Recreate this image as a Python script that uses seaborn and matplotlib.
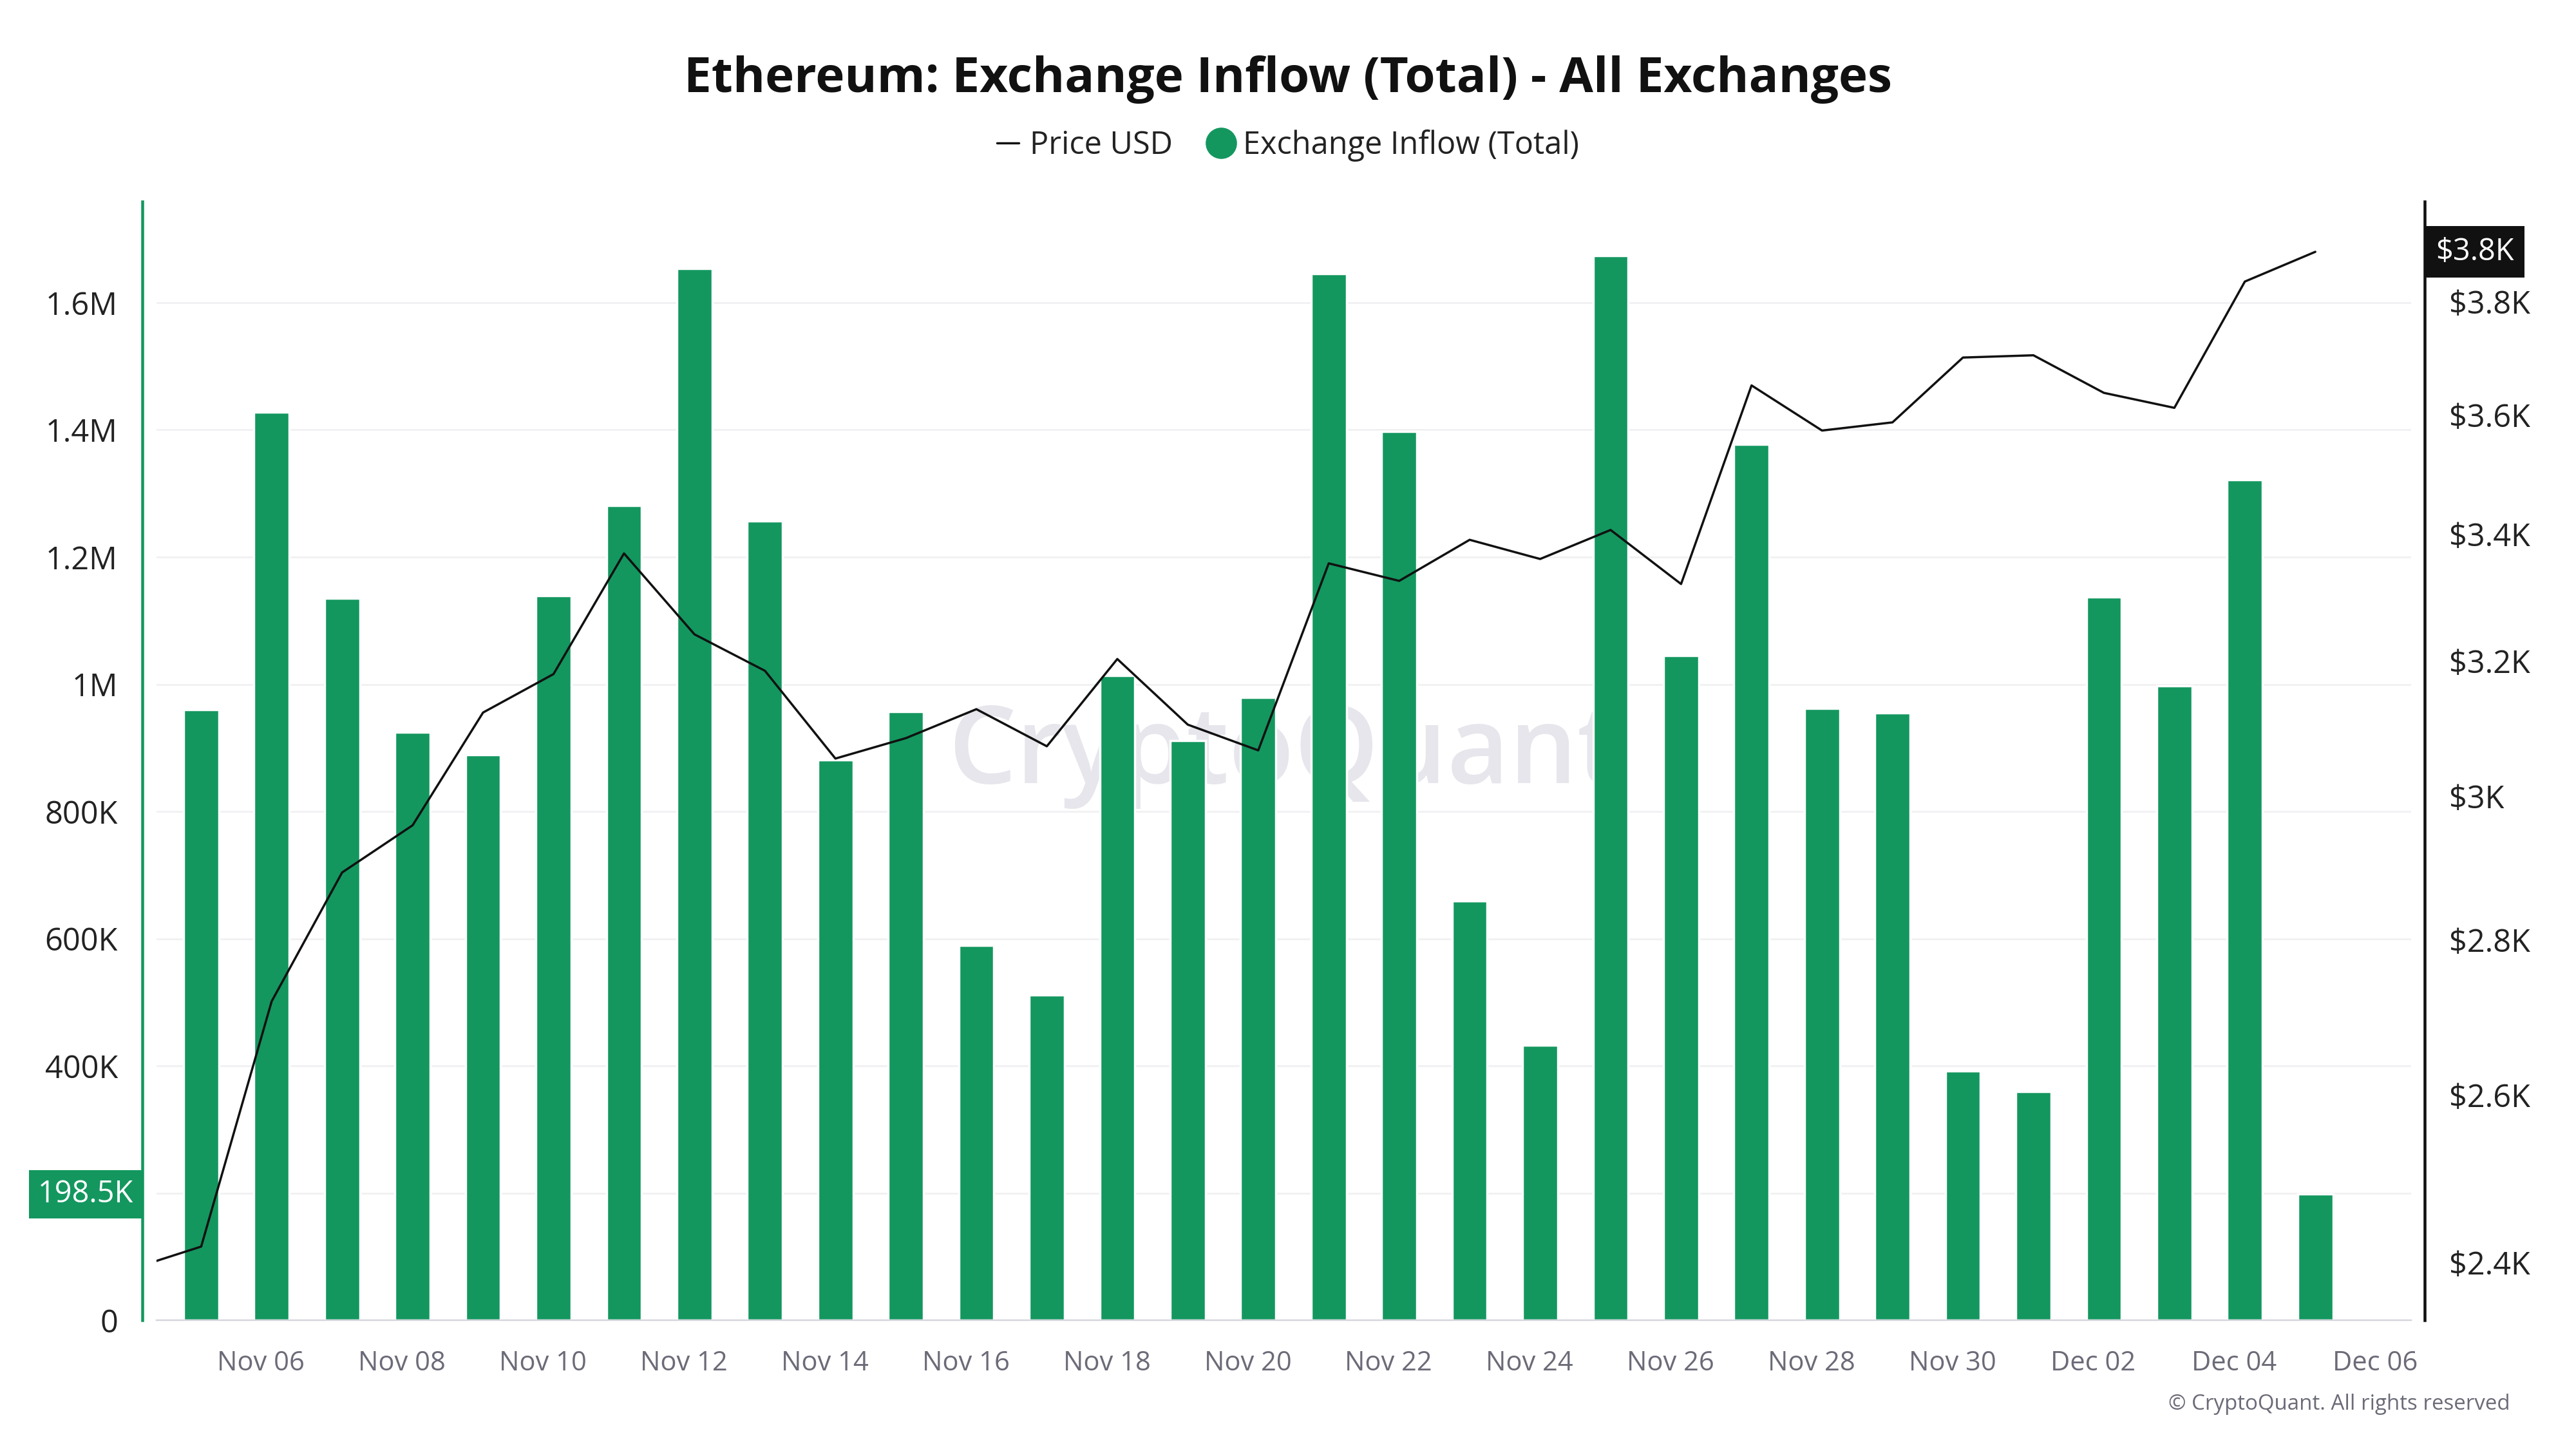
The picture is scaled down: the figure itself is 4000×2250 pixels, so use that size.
import pandas as pd
import matplotlib.pyplot as plt
import matplotlib.dates as mdates
import matplotlib.ticker as mticker
from matplotlib.lines import Line2D
import seaborn as sns

# Data
price_dates = pd.date_range('2024-11-04', '2024-12-05', freq='D')
price_usd = [2392, 2418, 2719, 2892, 2958, 3122, 3180, 3369, 3241, 3185,
             3054, 3084, 3127, 3072, 3203, 3104, 3066, 3353, 3325, 3391,
             3360, 3407, 3320, 3651, 3573, 3587, 3700, 3704, 3638, 3612,
             3837, 3892]

inflow_dates = pd.date_range('2024-11-05', '2024-12-05', freq='D')
inflow_k = [959.8, 1428, 1134.8, 924.4, 888.8, 1139.5, 1281.2, 1653.3, 1256.2, 881.2,
            957, 590, 511.8, 1013.3, 911.9, 979.7, 1645.6, 1397.6, 659, 432.3,
            1674, 1045.6, 1377.6, 962.2, 954.5, 392.5, 359.9, 1137.3, 997.9, 1321.3,
            198.5]

x_ticks = pd.date_range('2024-11-06', '2024-12-06', freq='2D')
inflow_ticks = [0, 200e3, 400e3, 600e3, 800e3, 1e6, 1.2e6, 1.4e6, 1.6e6]
price_ticks = [2400, 2600, 2800, 3000, 3200, 3400, 3600, 3800]

GREEN = '#13975f'
DARK = '#111111'
GREY = '#6b6b78'
shift = pd.Timedelta(hours=3.6)

sns.set_theme(style='white')
plt.rcParams['font.family'] = ['Open Sans', 'DejaVu Sans']

fig, ax = plt.subplots(figsize=(16, 9), dpi=250)
fig.subplots_adjust(left=0.06075, right=0.936, bottom=0.0887, top=0.861)

inflow = [v * 1000 for v in inflow_k]
ax.bar(inflow_dates + shift, inflow, width=0.5, color=GREEN, zorder=2)

ax2 = ax.twinx()
sns.lineplot(x=price_dates + shift, y=price_usd, ax=ax2, color=DARK, linewidth=1.0)
ax2.set_yscale('log')
ax2.set_ylim(2334, 3987)
ax2.yaxis.set_major_locator(mticker.FixedLocator(price_ticks))
ax2.yaxis.set_minor_locator(mticker.NullLocator())
ax2.yaxis.set_major_formatter(mticker.FuncFormatter(lambda v, p: f'${v / 1000:g}K'))
ax2.set_xlabel('')
ax2.set_ylabel('')

# left axis
ax.set_ylim(0, 1.759e6)
ax.set_yticks(inflow_ticks)


def fmt_inflow(v, pos):
    # the 200K label sits under the last-value box
    if v == 200e3:
        return ''
    if v >= 1e6:
        return f'{v / 1e6:g}M'
    if v >= 1e3:
        return f'{v / 1e3:g}K'
    return '0'


ax.yaxis.set_major_formatter(mticker.FuncFormatter(fmt_inflow))
ax.set_xlim(pd.Timestamp('2024-11-04 12:23'), pd.Timestamp('2024-12-06 12:14'))
ax.set_xticks(x_ticks)
ax.xaxis.set_major_formatter(mdates.DateFormatter('%b %d'))
ax.yaxis.grid(True, color='#f1f1f3', linewidth=0.8)
ax.set_axisbelow(True)

ax.tick_params(axis='y', length=0, pad=11, labelsize=14, labelcolor='#222222')
ax.tick_params(axis='x', direction='out', length=6, width=0.8, color='#cfcfd6',
               pad=7, labelsize=12, labelcolor=GREY)
ax2.tick_params(axis='y', length=0, pad=11, labelsize=14, labelcolor='#222222')

for s in ['top', 'right']:
    ax.spines[s].set_visible(False)
ax.spines['left'].set_color(GREEN)
ax.spines['left'].set_linewidth(1.3)
ax.spines['left'].set_position(('outward', 6.3))
ax.spines['bottom'].set_color('#d5d5dd')
ax.spines['bottom'].set_linewidth(0.7)
for s in ['top', 'left', 'bottom']:
    ax2.spines[s].set_visible(False)
ax2.spines['right'].set_color(DARK)
ax2.spines['right'].set_linewidth(1.3)
ax2.spines['right'].set_position(('outward', 6))

# watermark
ax.text(0.5, 0.505, 'CryptoQuant', transform=ax.transAxes, ha='center', va='center',
        fontsize=48, color='#e6e6ec', fontweight='semibold', zorder=0)

# last-value markers
ax.annotate(f'{inflow_k[-1]:g}K', xy=(0, inflow[-1]), xycoords=ax.get_yaxis_transform(),
            xytext=(-10.3, 0), textcoords='offset points', ha='right', va='center',
            fontsize=13.5, color='white', zorder=5, annotation_clip=False,
            bbox=dict(boxstyle='square,pad=0.3', fc=GREEN, ec='none'))
last_p = price_usd[-1]
ax2.annotate(f'${int(last_p / 100) / 10:g}K', xy=(1, last_p), xycoords=ax2.get_yaxis_transform(),
             xytext=(10.9, 0), textcoords='offset points', ha='left', va='center',
             fontsize=13.5, color='white', zorder=5, annotation_clip=False,
             bbox=dict(boxstyle='square,pad=0.35', fc=DARK, ec='none'))

# title and legend
fig.text(0.5, 0.9364, 'Ethereum: Exchange Inflow (Total) - All Exchanges', ha='center',
         va='baseline', fontsize=22, fontweight='bold', color=DARK)
handles = [Line2D([], [], color=DARK, linewidth=1.0),
           Line2D([], [], marker='o', color=GREEN, linestyle='none', markersize=13)]
fig.legend(handles, ['Price USD', 'Exchange Inflow (Total)'], loc='center',
           bbox_to_anchor=(0.5, 0.8996), ncol=2, frameon=False, fontsize=14,
           handlelength=0.7, handletextpad=0.35, columnspacing=1.2, labelcolor='#222222')

fig.text(0.9745, 0.0307, '\u00a9 CryptoQuant. All rights reserved', ha='right', va='center',
         fontsize=9.5, color=GREY)

fig.savefig('out.png', dpi=250)
